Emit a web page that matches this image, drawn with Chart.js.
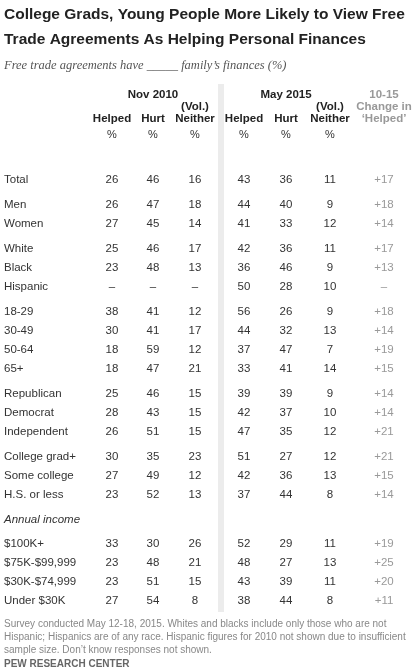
<!DOCTYPE html>
<html><head><meta charset="utf-8">
<script src="https://cdn.jsdelivr.net/npm/chart.js@4"></script>
<style>html,body{margin:0;padding:0;background:#fff}</style>
</head><body>
<canvas id="c" width="415" height="671"></canvas>
<script>
const rowLabels = [
 ["Total"],
 ["Men","Women"],
 ["White","Black","Hispanic"],
 ["18-29","30-49","50-64","65+"],
 ["Republican","Democrat","Independent"],
 ["College grad+","Some college","H.S. or less"],
 ["$100K+","$75K-$99,999","$30K-$74,999","Under $30K"]
];
const helped2010 = [26,26,27,25,23,null,38,30,18,18,25,28,26,30,27,23,33,23,23,27];
const hurt2010   = [46,47,45,46,48,null,41,41,59,47,46,43,51,35,49,52,30,48,51,54];
const neither2010= [16,18,14,17,13,null,12,17,12,21,15,15,15,23,12,13,26,21,15,8];
const helped2015 = [43,44,41,42,36,50,56,44,37,33,39,42,47,51,42,37,52,48,43,38];
const hurt2015   = [36,40,33,36,46,28,26,32,47,41,39,37,35,27,36,44,29,27,39,44];
const neither2015= [11,9,12,11,9,10,9,13,7,14,9,10,12,12,13,8,11,13,11,8];
const change     = [17,18,14,17,13,null,18,14,19,15,14,14,21,21,15,14,19,25,20,11];

const series=[helped2010,hurt2010,neither2010,helped2015,hurt2015,neither2015,change];
// layout
const colX=[112,153,195,244,286,330,384];
const rowStep=19, groupGap=6, firstRow=180;
const rowY=[]; const flatLabels=[];
let y=firstRow;
rowLabels.forEach((g,gi)=>{
  if(gi===6){ rowY.push(['Annual income',y]); y+=24; }
  g.forEach((l)=>{ flatLabels.push(l); rowY.push([l,y]); y+=rowStep; });
  y+=groupGap;
});
const pts=[];
series.forEach((s,ci)=>s.forEach((v,ri)=>pts.push({ci,ri,v})));
const yOf = {}; rowY.forEach(([l,yy])=>yOf[l]=yy);

const textPlugin={id:'t',afterDraw(ch){
  const c=ch.ctx, xs=ch.scales.x, ys=ch.scales.y;
  const X=v=>xs.getPixelForValue(v), Y=v=>ys.getPixelForValue(v);
  c.save();
  c.fillStyle='#ececec'; c.fillRect(X(218),Y(84),X(224)-X(218),Y(612)-Y(84));
  c.textBaseline='middle';
  c.fillStyle='#222'; c.font='bold 15.5px "Liberation Sans", Arial'; c.textAlign='left';
  c.fillText('College Grads, Young People More Likely to View Free',4,Y(15));
  c.fillText('Trade Agreements As Helping Personal Finances',4,Y(40));
  c.font='italic 12.5px "Liberation Serif", Georgia'; c.fillStyle='#555';
  c.fillText('Free trade agreements have _____ family\u2019s finances (%)',4,Y(66));
  c.font='bold 11.5px "Liberation Sans", Arial'; c.fillStyle='#222'; c.textAlign='center';
  c.fillText('Nov 2010',X(153),Y(95)); c.fillText('May 2015',X(286),Y(95));
  c.fillText('(Vol.)',X(195),Y(107)); c.fillText('(Vol.)',X(330),Y(107));
  ['Helped','Hurt','Neither','Helped','Hurt','Neither'].forEach((h,i)=>c.fillText(h,X(colX[i]),Y(119)));
  c.fillStyle='#999';
  c.fillText('10-15',X(colX[6]),Y(95)); c.fillText('Change in',X(colX[6]),Y(107)); c.fillText('\u2018Helped\u2019',X(colX[6]),Y(119));
  c.font='11px "Liberation Sans", Arial'; c.fillStyle='#333';
  for(let i=0;i<6;i++) c.fillText('%',X(colX[i]),Y(135));
  c.textAlign='left';
  rowY.forEach(([l,yy])=>{
    c.font=(l==='Annual income'?'italic ':'')+'11.5px "Liberation Sans", Arial';
    c.fillStyle='#333'; c.fillText(l,4,Y(yy));
  });
  c.font='11.5px "Liberation Sans", Arial'; c.textAlign='center';
  pts.forEach(p=>{
    const yy=yOf[flatLabels[p.ri]];
    let t = p.v==null?'\u2013':(p.ci===6?'+'+p.v:String(p.v));
    c.fillStyle=p.ci===6?'#999':'#333';
    c.fillText(t,X(colX[p.ci]),Y(yy));
  });
  c.textAlign='left'; c.font='10px "Liberation Sans", Arial'; c.fillStyle='#888';
  c.fillText('Survey conducted May 12-18, 2015. Whites and blacks include only those who are not',4,Y(624));
  c.fillText('Hispanic; Hispanics are of any race. Hispanic figures for 2010 not shown due to insufficient',4,Y(637));
  c.fillText('sample size. Don\u2019t know responses not shown.',4,Y(650));
  c.font='bold 10px "Liberation Sans", Arial'; c.fillStyle='#666';
  c.fillText('PEW RESEARCH CENTER',4,Y(664));
  c.restore();
}};
new Chart(document.getElementById('c'),{
  type:'scatter',
  data:{datasets:[{data:pts.filter(p=>p.v!=null).map(p=>({x:colX[p.ci],y:yOf[flatLabels[p.ri]]})),pointRadius:0}]},
  options:{responsive:false,animation:false,devicePixelRatio:1,layout:{padding:0},
    plugins:{legend:{display:false},tooltip:{enabled:false}},
    scales:{x:{type:'linear',min:0,max:415,display:false},y:{type:'linear',min:0,max:671,reverse:true,display:false}}},
  plugins:[textPlugin]
});
</script>
</body></html>
